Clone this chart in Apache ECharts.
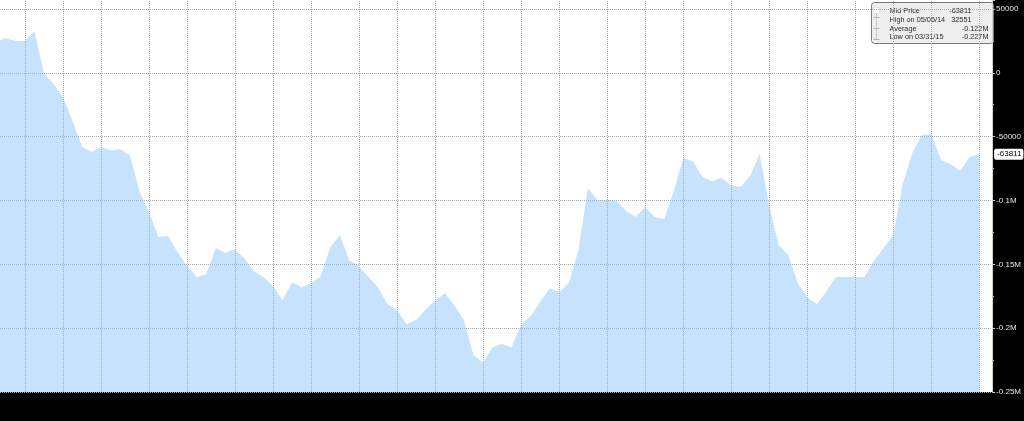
<!DOCTYPE html>
<html><head><meta charset="utf-8">
<script src="https://cdn.jsdelivr.net/npm/echarts@6/dist/echarts.min.js"></script>
<style>html,body{margin:0;padding:0;background:#000;}#c{width:1024px;height:421px;}</style>
</head><body><div id="c"></div>
<script>
// weekly observation dates (Tuesdays)
const dates = [
'2014-04-08','2014-04-15','2014-04-22','2014-04-29',
'2014-05-06','2014-05-13','2014-05-20','2014-05-27',
'2014-06-03','2014-06-10','2014-06-17','2014-06-24',
'2014-07-01','2014-07-08','2014-07-15','2014-07-22','2014-07-29',
'2014-08-05','2014-08-12','2014-08-19','2014-08-26',
'2014-09-02','2014-09-09','2014-09-16','2014-09-23','2014-09-30',
'2014-10-07','2014-10-14','2014-10-21','2014-10-28',
'2014-11-04','2014-11-11','2014-11-18','2014-11-25',
'2014-12-02','2014-12-09','2014-12-16','2014-12-23','2014-12-30',
'2015-01-06','2015-01-13','2015-01-20','2015-01-27',
'2015-02-03','2015-02-10','2015-02-17','2015-02-24',
'2015-03-03','2015-03-10','2015-03-17','2015-03-24','2015-03-31',
'2015-04-07','2015-04-14','2015-04-21','2015-04-28',
'2015-05-05','2015-05-12','2015-05-19','2015-05-26',
'2015-06-02','2015-06-09','2015-06-16','2015-06-23','2015-06-30',
'2015-07-07','2015-07-14','2015-07-21','2015-07-28',
'2015-08-04','2015-08-11','2015-08-18','2015-08-25',
'2015-09-01','2015-09-08','2015-09-15','2015-09-22','2015-09-29',
'2015-10-06','2015-10-13','2015-10-20','2015-10-27',
'2015-11-03','2015-11-10','2015-11-17','2015-11-24',
'2015-12-01','2015-12-08','2015-12-15','2015-12-22','2015-12-29',
'2016-01-05','2016-01-12','2016-01-19','2016-01-26',
'2016-02-02','2016-02-09','2016-02-16','2016-02-23',
'2016-03-01','2016-03-08','2016-03-15','2016-03-22','2016-03-29'
];
// mid price per week
const midPrice = [
24000,27200,24800,24800,
32551,-500,-8800,-19200,
-37800,-58200,-62100,-58200,
-60900,-59800,-64500,-92600,-109200,
-128700,-127900,-140500,-151400,
-160000,-157700,-137300,-141200,-138200,
-145200,-155400,-160000,-167100,
-178100,-164000,-167900,-164800,
-159300,-136600,-127200,-146800,-151400,
-160000,-167900,-181200,-185900,
-196900,-193700,-185100,-178100,
-172600,-182000,-193700,-221100,-227000,
-214900,-212500,-214900,-196900,
-190600,-179600,-168700,-171800,
-164800,-138900,-90300,-99700,-99700,
-100500,-108300,-113000,-105200,
-113000,-114600,-92700,-66800,
-69200,-81700,-84900,-82500,-88000,
-89500,-80900,-63700,-104400,
-135000,-142800,-164800,-175800,
-181200,-171000,-160000,-160000,-160000,
-160000,-146800,-137300,-127200,
-87200,-62900,-48800,-48000,
-68400,-71500,-77000,-66000,-63811
];
const yTickValues = [50000, 0, -50000, -100000, -150000, -200000, -250000];
const yTickLabels = ['50000', '0', '-50000', '-0.1M', '-0.15M', '-0.2M', '-0.25M'];
const legendLabels = ['Mid Price', 'High on 05/06/14', 'Average', 'Low on 03/31/15'];
const legendValues = ['-63811', '32551', '-0.122M', '-0.227M'];

const FONT = '"Liberation Sans", Arial, sans-serif';
const seriesData = midPrice.map((v, i) => [i, v]);
const monthEnds = [];
for (let i = 0; i < dates.length; i++) {
  if (i === dates.length - 1 || dates[i + 1].slice(5, 7) !== dates[i].slice(5, 7)) monthEnds.push(i);
}
const last = midPrice[midPrice.length - 1];

const gridLineStyle = { type: 'dotted', color: '#ababab', width: 1 };
const vLines = monthEnds.map(i => ({ xAxis: i, lineStyle: gridLineStyle, label: { show: false } }));

const legendY = [8, 17, 26, 34];
const legendChildren = [
  { type: 'rect', shape: { x: 0, y: 0, width: 122, height: 41, r: 3 }, style: { fill: '#eeeeee', stroke: '#7a7a7a', lineWidth: 1 } },
  { type: 'line', shape: { x1: 5, y1: 11, x2: 5, y2: 37 }, style: { stroke: '#c8c8c8', lineWidth: 1 } },
  { type: 'rect', shape: { x: 2, y: 5, width: 6, height: 6 }, style: { fill: '#fff', stroke: '#d0d0d0', lineWidth: 0.5 } },
  { type: 'line', shape: { x1: 2, y1: 15, x2: 8, y2: 15 }, style: { stroke: '#b0b0b0', lineWidth: 1 } },
  { type: 'line', shape: { x1: 2, y1: 26, x2: 8, y2: 26 }, style: { stroke: '#b0b0b0', lineWidth: 1 } },
  { type: 'line', shape: { x1: 2, y1: 37, x2: 8, y2: 37 }, style: { stroke: '#b0b0b0', lineWidth: 1 } }
];
const valueRight = [100, 100, 117, 117];
legendLabels.forEach((t, k) => {
  legendChildren.push({ type: 'text', x: 18, y: legendY[k], style: { text: t, fill: '#2a2a2a', font: '7.3px ' + FONT, textVerticalAlign: 'middle' } });
  legendChildren.push({ type: 'text', x: valueRight[k], y: legendY[k], style: { text: legendValues[k], fill: '#2a2a2a', font: '7.3px ' + FONT, textAlign: 'right', textVerticalAlign: 'middle' } });
});

const chart = echarts.init(document.getElementById('c'), null, { renderer: 'canvas' });
chart.setOption({
  backgroundColor: '#000',
  animation: false,
  grid: { left: 0, right: 29, top: 0, bottom: 29, show: true, backgroundColor: '#fff', borderWidth: 0 },
  xAxis: {
    type: 'value', min: 0.387, max: 104.36,
    show: false, splitLine: { show: false }
  },
  yAxis: {
    type: 'value', position: 'right',
    min: -250000, max: 57000, interval: 50000,
    axisLine: { show: true, lineStyle: { color: '#cfcfcf', width: 1 } },
    axisTick: { show: true, length: 3, lineStyle: { color: '#cfcfcf' } },
    minorTick: { show: true, splitNumber: 2, length: 2, lineStyle: { color: '#bbbbbb' } },
    splitLine: { show: true, showMaxLine: false, lineStyle: gridLineStyle },
    axisLabel: {
      color: '#e6e6e6', fontSize: 8, fontFamily: FONT, margin: 4, showMaxLabel: false,
      formatter: v => { const j = yTickValues.indexOf(v); return j >= 0 ? yTickLabels[j] : ''; }
    }
  },
  series: [{
    type: 'line', data: seriesData, showSymbol: false, silent: true, z: 2,
    lineStyle: { width: 0 },
    areaStyle: { origin: 'start', color: 'rgba(120,185,250,0.42)', opacity: 1 },
    markLine: { silent: true, symbol: 'none', z: 1, animation: false, data: vLines }
  }, {
    type: 'line', data: seriesData, showSymbol: false, silent: true, z: 5,
    lineStyle: { width: 0, color: 'rgba(0,0,0,0)' },
    markLine: {
      silent: true, symbol: 'none', animation: false,
      data: [{
        yAxis: last,
        lineStyle: { color: 'rgba(0,0,0,0)', width: 0 },
        label: {
          show: true, position: 'end', distance: 2,
          formatter: legendValues[0],
          color: '#000', backgroundColor: '#fff', borderRadius: 2,
          padding: [2, 2, 1, 3], fontSize: 8, fontFamily: FONT
        }
      }]
    }
  }],
  graphic: [{ type: 'group', left: 871, top: 2, children: legendChildren }]
});
</script></body></html>
